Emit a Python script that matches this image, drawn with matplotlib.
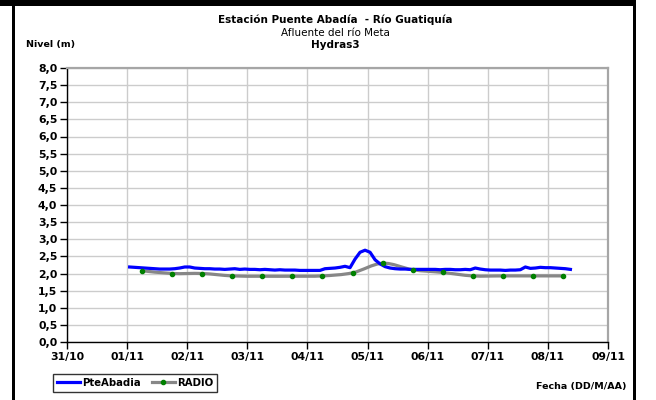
import matplotlib
matplotlib.use('Agg')
import matplotlib.pyplot as plt
import matplotlib.dates as mdates
from matplotlib.path import Path
from matplotlib.patches import PathPatch, Rectangle
from matplotlib.lines import Line2D
from matplotlib.ticker import FuncFormatter
import pandas as pd

# Nivel PteAbadia, una lectura cada 2 h desde 01/11 01:00
pte_inicio = '2011-11-01 01:00'
pte_nivel = [
    2.19, 2.18, 2.17, 2.16, 2.15, 2.14, 2.13, 2.13, 2.13, 2.14, 2.16, 2.19,  # 01/11
    2.19, 2.16, 2.15, 2.14, 2.14, 2.13, 2.13, 2.12, 2.13, 2.14, 2.12, 2.13,  # 02/11
    2.12, 2.12, 2.11, 2.12, 2.11, 2.10, 2.11, 2.10, 2.10, 2.10, 2.09, 2.09,  # 03/11
    2.09, 2.09, 2.09, 2.14, 2.15, 2.16, 2.18, 2.21, 2.17, 2.42, 2.62, 2.68,  # 04/11
    2.62, 2.40, 2.28, 2.20, 2.16, 2.14, 2.13, 2.13, 2.12, 2.12, 2.12, 2.12,  # 05/11
    2.12, 2.12, 2.11, 2.12, 2.12, 2.11, 2.11, 2.12, 2.11, 2.16, 2.13, 2.11,  # 06/11
    2.10, 2.10, 2.10, 2.09, 2.10, 2.10, 2.11, 2.19, 2.15, 2.16, 2.18, 2.17,  # 07/11
    2.17, 2.16, 2.15, 2.14, 2.12,                                            # 08/11
]

# Nivel RADIO, una lectura cada 12 h desde 01/11 06:00
radio_inicio = '2011-11-01 06:00'
radio_nivel = [2.08, 2.00, 2.00, 1.93, 1.92, 1.92, 1.93, 2.02,
               2.30, 2.11, 2.03, 1.93, 1.93, 1.93, 1.93]

y_ticks = [i * 0.5 for i in range(17)]

pte_t = pd.date_range(pte_inicio, periods=len(pte_nivel), freq='2h')
radio_t = pd.date_range(radio_inicio, periods=len(radio_nivel), freq='12h')

W, H = 656, 400
fig = plt.figure(figsize=(W / 100, H / 100), dpi=100)
fig.patch.set_facecolor('white')

def px(x0, y0):
    return x0 / W, 1 - y0 / H

ax = fig.add_axes([67 / W, 1 - 342 / H, (608 - 67) / W, (342 - 68) / H])

ax.plot(pte_t, pte_nivel, color='#0000ff', lw=2.3, zorder=3, solid_joinstyle='round')

# RADIO: linea suavizada (bezier tipo Catmull-Rom) con marcadores
xr = mdates.date2num(radio_t)
yr = list(radio_nivel)
pts = list(zip(xr, yr))
verts = [pts[0]]
codes = [Path.MOVETO]
n = len(pts)
for i in range(n - 1):
    p0 = pts[i - 1] if i > 0 else pts[i]
    p1 = pts[i]
    p2 = pts[i + 1]
    p3 = pts[i + 2] if i + 2 < n else pts[i + 1]
    c1 = (p1[0] + (p2[0] - p0[0]) / 6, p1[1] + (p2[1] - p0[1]) / 6)
    c2 = (p2[0] - (p3[0] - p1[0]) / 6, p2[1] - (p3[1] - p1[1]) / 6)
    verts += [c1, c2, p2]
    codes += [Path.CURVE4] * 3
ax.add_patch(PathPatch(Path(verts, codes), facecolor='none', edgecolor='#878787',
                       lw=2.3, zorder=2))
ax.plot(radio_t, radio_nivel, ls='none', marker='o', ms=3, color='#008000',
        mec='#008000', zorder=4)

ax.set_xlim(pd.Timestamp('2011-10-31'), pd.Timestamp('2011-11-09'))
ax.set_ylim(0, 8)
ax.xaxis.set_major_locator(mdates.DayLocator())
ax.xaxis.set_major_formatter(mdates.DateFormatter('%d/%m'))
ax.set_yticks(y_ticks)
ax.yaxis.set_major_formatter(FuncFormatter(lambda v, p: f'{v:.1f}'.replace('.', ',')))

ax.grid(True, color='#cccccc', lw=1.0)
ax.set_axisbelow(True)
for s in ('top', 'right'):
    ax.spines[s].set_color('#a6a6a6')
    ax.spines[s].set_linewidth(1.6)
for s in ('left', 'bottom'):
    ax.spines[s].set_color('black')
    ax.spines[s].set_linewidth(1.0)
ax.tick_params(direction='out', length=5, width=1, color='black', pad=2,
               labelsize=7.8)
for lb in ax.get_xticklabels() + ax.get_yticklabels():
    lb.set_fontweight('bold')

# titulos
fig.text(*px(335, 20), 'Estación Puente Abadía  - Río Guatiquía', ha='center',
         va='center', fontsize=7.5, fontweight='bold')
fig.text(*px(335, 33), 'Afluente del río Meta', ha='center', va='center', fontsize=7.5)
fig.text(*px(335, 45.5), 'Hydras3', ha='center', va='center', fontsize=7.5,
         fontweight='bold')
fig.text(*px(26, 45), 'Nivel (m)', ha='left', va='center', fontsize=6.8, fontweight='bold')
fig.text(*px(627, 387), 'Fecha (DD/M/AA)', ha='right', va='center', fontsize=6.8,
         fontweight='bold')

handles = [Line2D([], [], color='#0000ff', lw=2.3),
           Line2D([], [], color='#878787', lw=2.3, marker='o', ms=3,
                  mfc='#008000', mec='#008000')]
leg = fig.legend(handles, ['PteAbadia', 'RADIO'], ncol=2, loc='lower left',
                 bbox_to_anchor=px(53, 391.5), frameon=True, fancybox=False,
                 edgecolor='black', fontsize=7.3, handlelength=2.3,
                 handletextpad=0.2, columnspacing=1.1, borderpad=0.35,
                 borderaxespad=0)
leg.get_frame().set_linewidth(1.0)
for t in leg.get_texts():
    t.set_fontweight('bold')

# marco negro
fig.add_artist(Rectangle(px(0, 5.5), 636 / W, 5.5 / H, transform=fig.transFigure,
                         color='black', lw=0))
fig.add_artist(Rectangle(px(11.5, 400), 3.5 / W, 1, transform=fig.transFigure,
                         color='black', lw=0))
fig.add_artist(Rectangle(px(632.5, 400), 3.5 / W, 1, transform=fig.transFigure,
                         color='black', lw=0))

fig.savefig('out.png', dpi=100, facecolor='white')
